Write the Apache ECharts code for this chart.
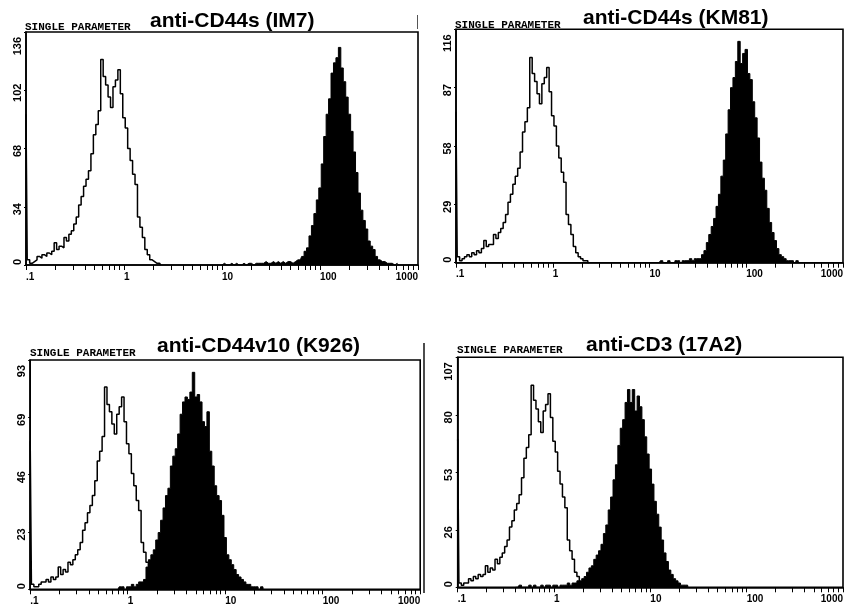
<!DOCTYPE html>
<html><head><meta charset="utf-8">
<script src="https://cdn.jsdelivr.net/npm/echarts@6/dist/echarts.min.js"></script>
<style>html,body{margin:0;padding:0;background:#fff}#c{width:846px;height:607px}</style>
</head><body><div id="c"></div>
<script>
// ---- data ----
const xTickLabels = ['.1', '1', '10', '100', '1000'];
const headerText = 'SINGLE PARAMETER';
const panelTitles = ['anti-CD44s (IM7)', 'anti-CD44s (KM81)', 'anti-CD44v10 (K926)', 'anti-CD3 (17A2)'];
const yMax = [136, 116, 93, 107];
const binsPerDecade = 40;   // channel resolution (channels per decade), channel 0 = 0.1

// open (control) histograms, starting at channel 0
const open1 = [88,3,1,2,3,5,4,6,5,7,6,8,13,9,11,10,16,14,18,20,24,28,35,40,46,50,55,65,76,82,90,120,110,105,98,92,104,108,114,100,86,80,68,61,53,47,28,22,16,9,6,3,2,1,1,0];
const open2 = [75,3,1,2,3,4,3,5,4,6,5,7,11,8,9,9,14,12,15,17,20,24,30,34,39,43,47,55,65,70,77,102,94,90,84,79,89,92,97,85,73,68,58,52,45,40,24,19,14,8,5,3,2,1,1,0];
const open3 = [60,2,1,1,2,3,3,4,3,5,4,5,9,6,8,7,11,10,12,14,16,19,24,27,31,34,38,44,52,56,62,82,75,72,67,63,71,74,78,68,59,55,47,42,36,32,19,15,11,6,4,2,1,1,1,0];
const open4 = [69,2,1,2,2,4,3,5,4,6,5,6,10,7,9,8,13,11,14,16,19,22,28,31,36,39,43,51,60,65,71,94,87,83,77,72,82,85,90,79,68,63,54,48,42,37,22,17,13,7,5,2,2,1,1,0];

// filled (antibody) histograms
const filled1Start = 80;
const filled1 = [0,1,0,0,1,0,1,0,0,1,0,1,1,0,1,1,1,1,2,1,1,2,1,2,
  1,2,1,2,2,1,2,3,3,5,8,10,17,23,30,38,45,59,75,88,97,112,118,121,127,115,107,98,88,78,66,54,42,32,26,21,14,11,9,5,3,2,2,1,1,1,0,1,0];
const filled2Start = 84;
const filled2 = [0,1,0,0,1,0,0,1,1,0,1,1,1,2,1,2,
  2,2,4,6,10,14,18,22,28,34,43,51,64,76,87,92,100,110,99,104,106,94,91,80,72,62,50,42,36,27,20,15,11,7,4,3,2,1,1,1,0,1,0];
const filled3Start = 36;
const filled3 = [0,1,1,0,1,1,2,1,2,3,3,4,9,12,14,16,20,23,28,33,38,41,50,54,57,63,71,76,78,77,80,88,78,79,76,68,66,72,56,50,42,38,36,30,21,14,12,10,8,6,5,4,3,2,2,1,1,1,0,1,0];
const filled4Start = 24;
const filled4 = [0,0,1,0,0,0,1,0,1,0,0,1,0,1,1,0,1,1,0,1,
  1,1,2,1,2,2,3,3,4,5,7,9,10,13,15,17,20,25,29,36,42,50,57,66,74,78,86,92,86,92,82,89,84,78,70,62,55,48,40,34,28,22,16,12,8,6,4,3,2,1,1,1,0];

const openSeries = [open1, open2, open3, open4];
const filledSeries = [[filled1Start, filled1], [filled2Start, filled2], [filled3Start, filled3], [filled4Start, filled4]];

// ---- layout ----
const grids = [
  {left: 26, top: 32, width: 392, height: 233},
  {left: 456, top: 29.3, width: 390, height: 233.4},
  {left: 30.2, top: 360, width: 390, height: 229.3},
  {left: 457.7, top: 357.3, width: 390, height: 230}
];
const headerPos = [[25, 27.5], [455, 25.5], [30, 354], [457, 350.5]];
const titlePos = [[150, 21.5], [583, 18.5], [157, 347], [586, 345.5]];

function toSeriesData(start, arr) {
  return arr.map((v, j) => [-1 + (start + j) / binsPerDecade, v]);
}

const minorTicks = [];
for (let d = -1; d < 3; d++) {
  for (let k = 1; k <= 9; k++) minorTicks.push(d + Math.log10(k));
}
minorTicks.push(3);

const labelFont = '"Liberation Sans", Arial, sans-serif';
const option = {
  animation: false,
  backgroundColor: '#fff',
  grid: grids.map(g => Object.assign({show: true, borderColor: '#000', borderWidth: 1.6, backgroundColor: 'transparent'}, g)),
  xAxis: grids.map((g, i) => ({
    type: 'value', gridIndex: i, min: -1, max: 3, interval: 1,
    axisLine: {show: true, onZero: false, lineStyle: {color: '#000', width: 1.6}},
    axisTick: {show: true, length: 5, lineStyle: {color: '#000', width: 1}, customValues: minorTicks},
    splitLine: {show: false},
    axisLabel: {
      color: '#000', fontFamily: labelFont, fontWeight: 'bold', fontSize: 10, margin: 7,
      align: 'left', alignMinLabel: 'left', alignMaxLabel: 'right',
      formatter: v => xTickLabels[Math.round(v) + 1]
    }
  })),
  yAxis: grids.map((g, i) => ({
    type: 'value', gridIndex: i, min: 0, max: yMax[i], interval: yMax[i] / 4,
    axisLine: {show: true, onZero: false, lineStyle: {color: '#000', width: 1.6}},
    axisTick: {show: true, length: 2, lineStyle: {color: '#000', width: 1}},
    splitLine: {show: false},
    axisLabel: {
      color: '#000', fontFamily: labelFont, fontWeight: 'bold', fontSize: 11, rotate: 90, margin: 3,
      align: 'center', alignMinLabel: 'left', alignMaxLabel: 'right', padding: [0, 5, 0, 0],
      formatter: v => String(Math.floor(v + 1e-9))
    }
  })),
  series: [],
  graphic: []
};

for (let i = 0; i < 4; i++) {
  option.series.push({
    type: 'line', xAxisIndex: i, yAxisIndex: i, step: 'middle', symbol: 'none', z: 2,
    lineStyle: {color: '#000', width: 1}, areaStyle: {color: '#000', opacity: 1},
    data: toSeriesData(filledSeries[i][0], filledSeries[i][1])
  });
  option.series.push({
    type: 'line', xAxisIndex: i, yAxisIndex: i, step: 'middle', symbol: 'none', z: 3,
    lineStyle: {color: '#000', width: 1.5},
    data: toSeriesData(0, openSeries[i])
  });
  option.graphic.push({
    type: 'text', left: headerPos[i][0], top: headerPos[i][1] - 6, silent: true,
    style: {text: headerText, font: 'bold 11px "Liberation Mono", "DejaVu Sans Mono", monospace', fill: '#000'}
  });
  option.graphic.push({
    type: 'text', left: titlePos[i][0], top: titlePos[i][1] - 11, silent: true,
    style: {text: panelTitles[i], font: 'bold 21px "Liberation Sans", Arial, sans-serif', fill: '#000'}
  });
}
// scan artefacts (thin marks on the printed figure)
option.graphic.push({type: 'line', silent: true, shape: {x1: 417.5, y1: 15, x2: 417.5, y2: 29}, style: {stroke: '#555', lineWidth: 1}});
option.graphic.push({type: 'line', silent: true, shape: {x1: 424, y1: 343, x2: 424, y2: 593}, style: {stroke: '#000', lineWidth: 1.4}});

const chart = echarts.init(document.getElementById('c'), null, {renderer: 'canvas'});
chart.setOption(option);
</script></body></html>
